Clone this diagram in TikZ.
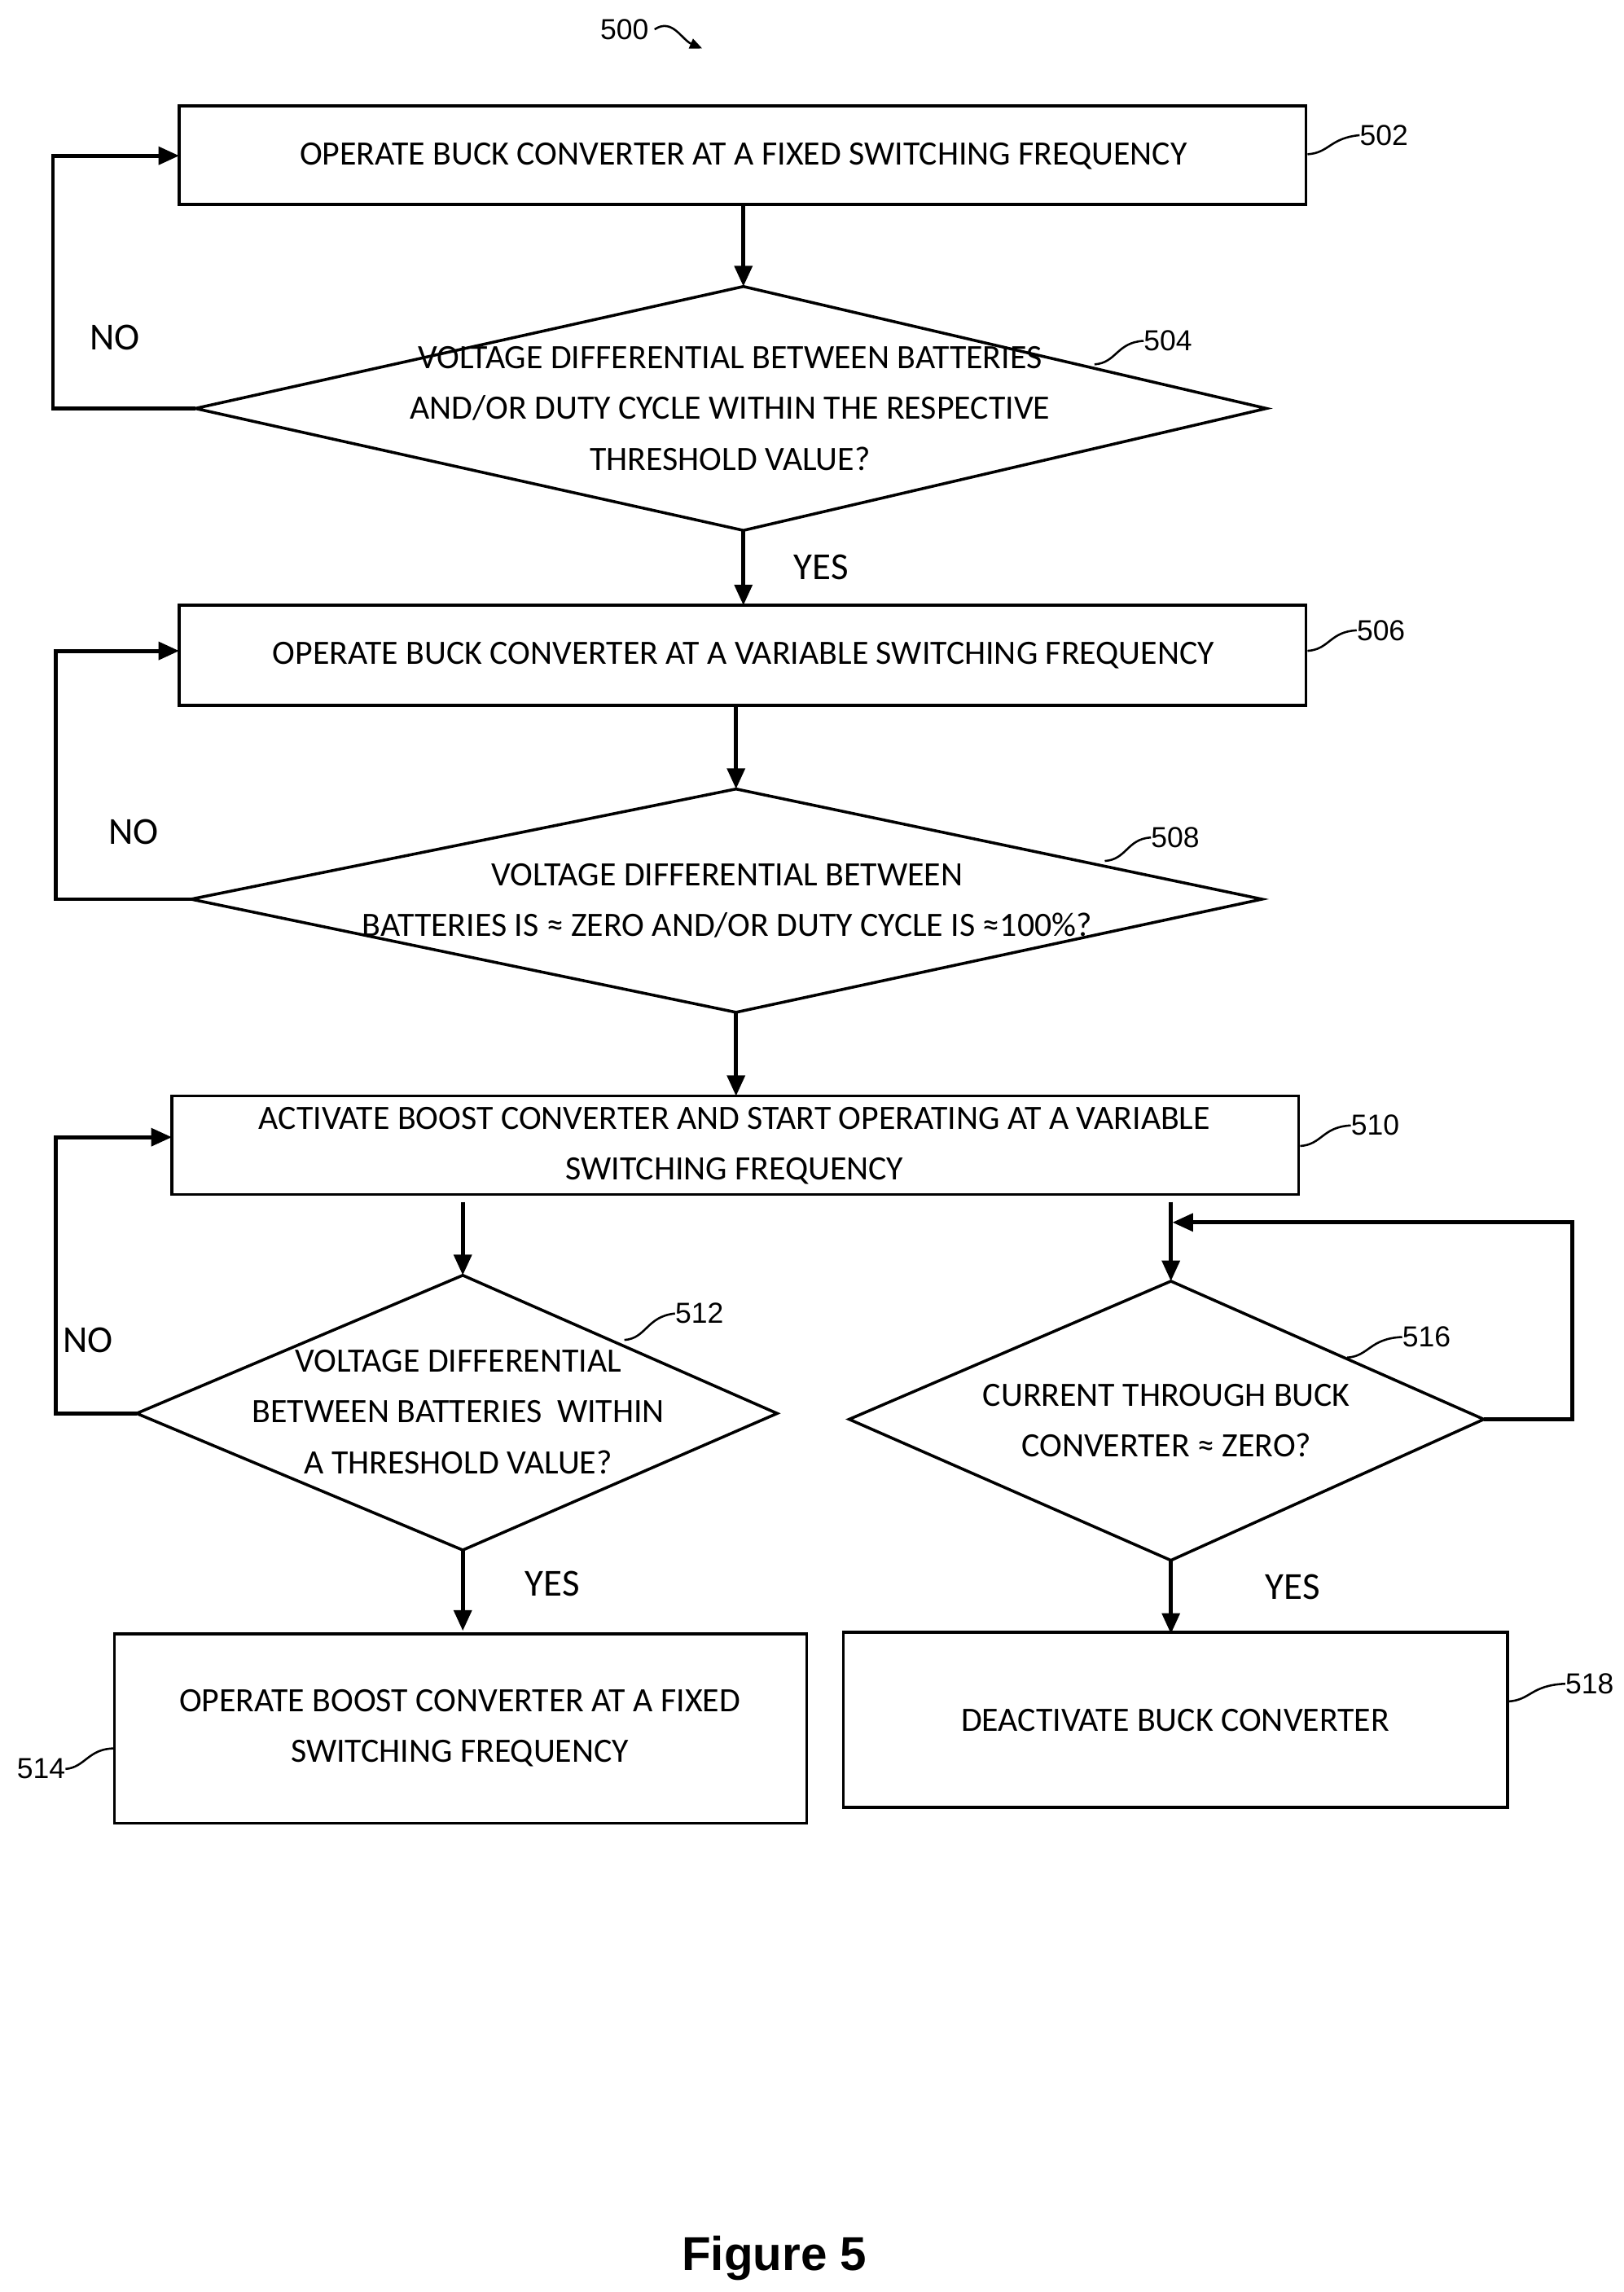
\documentclass[tikz,border=0pt]{standalone}
\usepackage{fontspec}
\setmainfont{Carlito}
\newfontfamily\arialf{Liberation Sans}
\usetikzlibrary{arrows.meta}
\begin{document}
\begin{tikzpicture}[x=0.5mm,y=-0.5mm,
  box/.style={draw,line width=2.8pt},
  dia/.style={draw,line width=2.8pt,line join=miter},
  txt/.style={font=\fontsize{33}{49}\selectfont,align=center,inner sep=0},
  num/.style={font=\arialf\fontsize{28}{30}\selectfont,inner sep=0},
  arr/.style={line width=3.8pt,-{Triangle[length=20pt,width=17pt]}},
  lead/.style={line width=2pt},
  lab/.style={font=\fontsize{37}{40}\selectfont,inner sep=0}]
\useasboundingbox (0,0) rectangle (1105,1560);
% 500
\node[num] (n500) at (425,20) {500};
\coordinate (a500) at (478,33);
\draw[line width=2pt,-{Triangle[length=12pt,width=10pt]}] (n500.east) ++(4,0) .. controls +(12,-8) and +(-14,-6) .. (a500);
% 502
\draw[box] (122,72) rectangle (889,139);
\node[txt] (t502) at (506,106) {OPERATE BUCK CONVERTER AT A FIXED SWITCHING FREQUENCY};
\coordinate (b502s) at (506,139);
\node[num] (n502) at (942,92) {502};
\draw[lead] (890,105) .. controls (905,104) and (905,94) .. (n502.west);
% 504
\coordinate (d504l) at (133,278);\coordinate (d504r) at (862,278);
\coordinate (d504t) at (506,195);\coordinate (d504b) at (506,361);
\draw[dia] (d504l)--(d504t)--(d504r)--(d504b)--cycle;
\node[txt] (t504) at (497,278) {VOLTAGE DIFFERENTIAL BETWEEN BATTERIES\\AND/OR DUTY CYCLE WITHIN THE RESPECTIVE\\THRESHOLD VALUE?};
\node[num] (n504) at (795,232) {504};
\draw[lead] (745,248) .. controls (760,247) and (760,233) .. (n504.west);
\draw[arr] (b502s) -- (d504t);
\coordinate (c1) at (36,278);\coordinate (c2) at (36,106);\coordinate (b502w) at (122,106);
\draw[arr] (d504l) -- (c1) -- (c2) -- (b502w);
\node[lab] (no1) at (78,230) {NO};
% 506
\draw[box] (122,412) rectangle (889,480);
\node[txt] (t506) at (506,446) {OPERATE BUCK CONVERTER AT A VARIABLE SWITCHING FREQUENCY};
\coordinate (b506n) at (506,412);
\draw[arr] (d504b) -- (b506n);
\node[lab] (yes1) at (559,386) {YES};
\node[num] (n506) at (940,429) {506};
\draw[lead] (890,443) .. controls (905,442) and (905,430) .. (n506.west);
% 508
\coordinate (d508l) at (130,612);\coordinate (d508r) at (859,612);
\coordinate (d508t) at (501,537);\coordinate (d508b) at (501,689);
\draw[dia] (d508l)--(d508t)--(d508r)--(d508b)--cycle;
\node[txt] (t508) at (495,613) {VOLTAGE DIFFERENTIAL BETWEEN\\BATTERIES IS ≈ ZERO AND/OR DUTY CYCLE IS ≈100\%?};
\coordinate (b506s) at (501,480);
\draw[arr] (b506s) -- (d508t);
\node[num] (n508) at (800,570) {508};
\draw[lead] (752,586) .. controls (767,585) and (767,571) .. (n508.west);
\coordinate (c3) at (38,612);\coordinate (c4) at (38,443);\coordinate (b506w) at (122,443);
\draw[arr] (d508l) -- (c3) -- (c4) -- (b506w);
\node[lab] (no2) at (91,566) {NO};
% 510
\draw[box] (117,746) rectangle (884,813);
\node[txt] (t510) at (500,780) {ACTIVATE BOOST CONVERTER AND START OPERATING AT A VARIABLE\\SWITCHING FREQUENCY};
\coordinate (b510n) at (501,746);
\draw[arr] (d508b) -- (b510n);
\node[num] (n510) at (936,766) {510};
\draw[lead] (885,780) .. controls (900,779) and (900,767) .. (n510.west);
% 512
\coordinate (d512l) at (93,962);\coordinate (d512r) at (529,962);
\coordinate (d512t) at (315,868);\coordinate (d512b) at (315,1055);
\draw[dia] (d512l)--(d512t)--(d512r)--(d512b)--cycle;
\node[txt] (t512) at (312,961) {VOLTAGE DIFFERENTIAL\\BETWEEN BATTERIES\ \ WITHIN\\A THRESHOLD VALUE?};
\coordinate (b510a) at (315,818);
\draw[arr] (b510a) -- (d512t);
\node[num] (n512) at (476,894) {512};
\draw[lead] (425,912) .. controls (440,911) and (440,896) .. (n512.west);
\coordinate (c5) at (38,962);\coordinate (c6) at (38,774);\coordinate (b510w) at (117,774);
\draw[arr] (d512l) -- (c5) -- (c6) -- (b510w);
\node[lab] (no3) at (60,912) {NO};
% 514
\draw[box] (78,1112) rectangle (549,1241);
\node[txt] (t514) at (313,1176) {OPERATE BOOST CONVERTER AT A FIXED\\SWITCHING FREQUENCY};
\coordinate (b514n) at (315,1110);
\draw[arr] (d512b) -- (b514n);
\node[lab] (yes2) at (376,1078) {YES};
\node[num] (n514) at (28,1204) {514};
\draw[lead] (n514.east) .. controls (58,1203) and (60,1190) .. (78,1190);
% 516
\coordinate (d516l) at (578,966);\coordinate (d516r) at (1010,966);
\coordinate (d516t) at (797,872);\coordinate (d516b) at (797,1062);
\draw[dia] (d516l)--(d516t)--(d516r)--(d516b)--cycle;
\node[txt] (t516) at (794,967) {CURRENT THROUGH BUCK\\CONVERTER ≈ ZERO?};
\coordinate (b510b) at (797,818);
\draw[arr] (b510b) -- (d516t);
\node[num] (n516) at (971,910) {516};
\draw[lead] (917,924) .. controls (932,923) and (932,911) .. (n516.west);
\coordinate (c7) at (1070,966);\coordinate (c8) at (1070,832);\coordinate (c9) at (798,832);
\draw[arr] (d516r) -- (c7) -- (c8) -- (c9);
% 518
\draw[box] (574,1111) rectangle (1026,1230);
\node[txt] (t518) at (800,1171) {DEACTIVATE BUCK CONVERTER};
\coordinate (b518n) at (797,1112);
\draw[arr] (d516b) -- (b518n);
\node[lab] (yes3) at (880,1080) {YES};
\node[num] (n518) at (1082,1146) {518};
\draw[lead] (1027,1158) .. controls (1042,1157) and (1042,1147) .. (n518.west);
% caption
\node[font=\arialf\bfseries\fontsize{46}{50}\selectfont,inner sep=0] (fig) at (527,1537) {Figure 5};
\end{tikzpicture}
\end{document}
